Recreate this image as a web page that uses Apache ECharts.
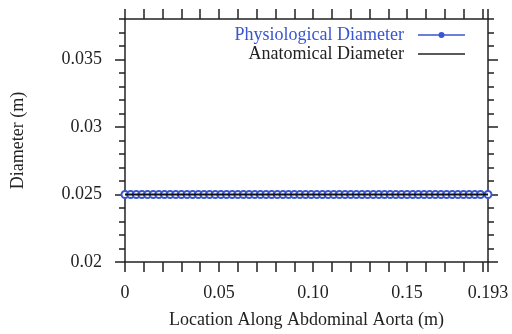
<!DOCTYPE html>
<html>
<head>
<meta charset="utf-8">
<script src="https://cdn.jsdelivr.net/npm/echarts@6/dist/echarts.min.js"></script>
<style>html,body{margin:0;padding:0;background:#fff}#c{width:512px;height:334px}</style>
</head>
<body>
<div id="c"></div>
<script>
// Data
var locations = [0, 0.003, 0.006, 0.009, 0.012, 0.015, 0.018, 0.021, 0.024, 0.027, 0.030, 0.033, 0.036, 0.039, 0.042, 0.045, 0.048, 0.051, 0.054, 0.057, 0.060, 0.063, 0.066, 0.069, 0.072, 0.075, 0.078, 0.081, 0.084, 0.087, 0.090, 0.093, 0.096, 0.099, 0.102, 0.105, 0.108, 0.111, 0.114, 0.117, 0.120, 0.123, 0.126, 0.129, 0.132, 0.135, 0.138, 0.141, 0.144, 0.147, 0.150, 0.153, 0.156, 0.159, 0.162, 0.165, 0.168, 0.171, 0.174, 0.177, 0.180, 0.183, 0.186, 0.189, 0.193];
var physiological = [0.025, 0.025, 0.025, 0.025, 0.025, 0.025, 0.025, 0.025, 0.025, 0.025, 0.025, 0.025, 0.025, 0.025, 0.025, 0.025, 0.025, 0.025, 0.025, 0.025, 0.025, 0.025, 0.025, 0.025, 0.025, 0.025, 0.025, 0.025, 0.025, 0.025, 0.025, 0.025, 0.025, 0.025, 0.025, 0.025, 0.025, 0.025, 0.025, 0.025, 0.025, 0.025, 0.025, 0.025, 0.025, 0.025, 0.025, 0.025, 0.025, 0.025, 0.025, 0.025, 0.025, 0.025, 0.025, 0.025, 0.025, 0.025, 0.025, 0.025, 0.025, 0.025, 0.025, 0.025, 0.025];
var anatomicalLoc = [0, 0.193];
var anatomical = [0.025, 0.025];

var xTicks = [0, 0.01, 0.02, 0.03, 0.04, 0.05, 0.06, 0.07, 0.08, 0.09, 0.10, 0.11, 0.12, 0.13, 0.14, 0.15, 0.16, 0.17, 0.18, 0.19, 0.193];
var xLabelValues = [0, 0.05, 0.10, 0.15, 0.193];
var xLabelTexts = ['0', '0.05', '0.10', '0.15', '0.193'];
var yMajor = [0.02, 0.025, 0.03, 0.035];
var yLabelTexts = ['0.02', '0.025', '0.03', '0.035'];
var yMinor = [0.02, 0.021, 0.022, 0.023, 0.024, 0.025, 0.026, 0.027, 0.028, 0.029, 0.030, 0.031, 0.032, 0.033, 0.034, 0.035, 0.036, 0.037, 0.038];

var xMin = 0, xMax = 0.193, yMin = 0.02, yMax = 0.038;
var FONT = 'Liberation Serif';
var INK = '#222';
var BLUE = '#3a55d0';

function labelFor(values, texts) {
  return function (v) {
    for (var i = 0; i < values.length; i++) {
      if (Math.abs(values[i] - v) < 1e-7) return texts[i];
    }
    return '';
  };
}

var lineStyle = { color: INK, width: 1.5 };
var gridBox = { left: 125, right: 24, top: 19, bottom: 72, containLabel: false };

function tickAxis(type, pos, gridIndex, min, max, ticks, len, showLine) {
  return {
    type: 'value', position: pos, gridIndex: gridIndex, min: min, max: max,
    axisLine: { show: showLine, onZero: false, lineStyle: lineStyle },
    axisTick: { show: true, inside: false, length: len, customValues: ticks, lineStyle: { color: INK, width: 1.5 } },
    axisLabel: { show: false },
    splitLine: { show: false }
  };
}

var xBottom = tickAxis('x', 'bottom', 0, xMin, xMax, xTicks, 10, true);
xBottom.axisLabel = { show: true, customValues: xLabelValues, formatter: labelFor(xLabelValues, xLabelTexts), margin: 22, fontFamily: FONT, fontSize: 18, color: INK };
xBottom.name = 'Location Along Abdominal Aorta (m)';
xBottom.nameLocation = 'middle';
xBottom.nameGap = 49;
xBottom.nameTextStyle = { fontFamily: FONT, fontSize: 18, color: INK };

var xTop = tickAxis('x', 'top', 1, xMin, xMax, xTicks, 10, true);

var yLeftMajor = tickAxis('y', 'left', 0, yMin, yMax, yMajor, 10, true);
yLeftMajor.axisLabel = { show: true, customValues: yMajor, formatter: labelFor(yMajor, yLabelTexts), margin: 23, fontFamily: FONT, fontSize: 18, color: INK };
yLeftMajor.name = 'Diameter (m)';
yLeftMajor.nameLocation = 'middle';
yLeftMajor.nameGap = 98;
yLeftMajor.nameTextStyle = { fontFamily: FONT, fontSize: 18, color: INK };

var yRightMajor = tickAxis('y', 'right', 0, yMin, yMax, yMajor, 10, true);
var yLeftMinor = tickAxis('y', 'left', 1, yMin, yMax, yMinor, 6, false);
var yRightMinor = tickAxis('y', 'right', 1, yMin, yMax, yMinor, 6, false);

var option = {
  animation: false,
  backgroundColor: '#fff',
  grid: [gridBox, gridBox],
  legend: {
    orient: 'vertical',
    right: 42,
    top: 21,
    align: 'right',
    itemWidth: 47,
    itemHeight: 12,
    itemGap: 1,
    textStyle: { fontFamily: FONT, fontSize: 18, color: INK, padding: [0, 9, 0, 0] },
    data: [
      { name: 'Physiological Diameter', textStyle: { color: BLUE },
        icon: 'path://M0,5.25 L47,5.25 L47,6.75 L0,6.75 Z M20.5,6 A3,3 0 1,1 26.5,6 A3,3 0 1,1 20.5,6 Z',
        itemStyle: { color: BLUE, borderWidth: 0 } },
      { name: 'Anatomical Diameter', textStyle: { color: INK },
        icon: 'path://M0,0 L47,0 L47,1.6 L0,1.6 Z',
        itemStyle: { color: INK, borderWidth: 0 } }
    ]
  },
  xAxis: [xBottom, xTop],
  yAxis: [yLeftMajor, yRightMajor, yLeftMinor, yRightMinor],
  series: [
    {
      name: 'Physiological Diameter',
      type: 'line',
      xAxisIndex: 0, yAxisIndex: 0,
      data: locations.map(function (x, i) { return [x, physiological[i]]; }),
      symbol: 'emptyCircle',
      symbolSize: 7,
      showAllSymbol: true,
      itemStyle: { color: BLUE, borderColor: BLUE, borderWidth: 1.3 },
      lineStyle: { color: BLUE, width: 1.5 },
      z: 2
    },
    {
      name: 'Anatomical Diameter',
      type: 'line',
      xAxisIndex: 0, yAxisIndex: 0,
      data: anatomicalLoc.map(function (x, i) { return [x, anatomical[i]]; }),
      symbol: 'none',
      itemStyle: { color: INK },
      lineStyle: { color: '#111', width: 2 },
      z: 3
    }
  ]
};

var chart = echarts.init(document.getElementById('c'), null, { renderer: 'canvas' });
chart.setOption(option);
</script>
</body>
</html>
